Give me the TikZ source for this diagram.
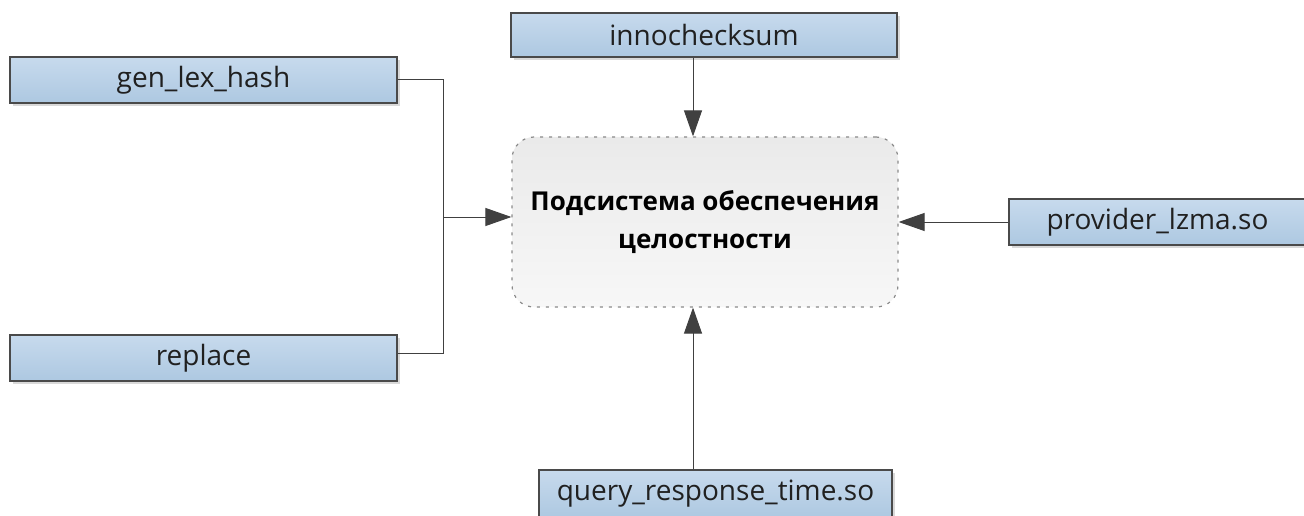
\documentclass[tikz,border=0pt]{standalone}
\usepackage{fontspec}
\setmainfont{Open Sans}
\usetikzlibrary{arrows.meta,shadows}
\definecolor{boxtop}{HTML}{C7DAED}
\definecolor{boxbot}{HTML}{ADC8E1}
\definecolor{boxline}{HTML}{4A4A4A}
\definecolor{linecol}{HTML}{404040}
\definecolor{txt}{HTML}{202020}
\definecolor{ctop}{HTML}{EAEAEA}
\definecolor{cbot}{HTML}{F7F7F7}
\definecolor{cline}{HTML}{8A8A8A}
\tikzset{
  bluebox/.style={draw=boxline, line width=1.2pt, top color=boxtop, bottom color=boxbot,
    minimum height=46pt, inner sep=0pt, text=txt,
    font=\fontsize{28}{32}\selectfont,
    drop shadow={shadow xshift=3pt, shadow yshift=-3pt, fill=black, opacity=0.15}},
  centerbox/.style={draw=cline, dash pattern=on 3pt off 6pt, line width=1.2pt, rounded corners=22pt,
    top color=ctop, bottom color=cbot, minimum width=386pt, minimum height=170pt,
    inner sep=0pt, align=center, text=black,
    font=\bfseries\fontsize{26}{38}\selectfont},
  conn/.style={draw=linecol, line width=1pt},
  arr/.style={conn, -{Triangle[length=26pt,width=18pt]}}
}
\begin{document}
\begin{tikzpicture}[x=1pt,y=-1pt]
\useasboundingbox (0,0) rectangle (1304,516);
\begin{scope}
\clip (0,0) rectangle (1304,516);
\node[centerbox] (ctr) at (705,222) {Подсистема обеспечения\\целостности};
\node[bluebox, minimum width=387pt] (gen) at (203.5,80) {gen\_lex\_hash};
\node[bluebox, minimum width=387pt] (rep) at (203.5,358) {replace};
\node[bluebox, minimum width=386pt, minimum height=44pt] (inno) at (704,35) {innochecksum};
\node[bluebox, minimum width=297pt] (prov) at (1157.5,222) {provider\_lzma.so};
\node[bluebox, minimum width=353pt, minimum height=48pt] (qry) at (715.5,494) {query\_response\_time.so};
\coordinate (j) at (443,217);
\draw[conn] (gen.east) -| (j);
\draw[conn] ([yshift=5pt]rep.east) -| (j);
\draw[arr] (j) -- (ctr.west |- j);
\draw[arr] ([xshift=-11pt]inno.south) -- ([xshift=-12pt]ctr.north);
\draw[arr] (prov.west) -- (ctr.east |- prov.west);
\draw[arr] ([xshift=-22.5pt]qry.north) -- ([xshift=-12pt]ctr.south);
\end{scope}
\end{tikzpicture}
\end{document}
